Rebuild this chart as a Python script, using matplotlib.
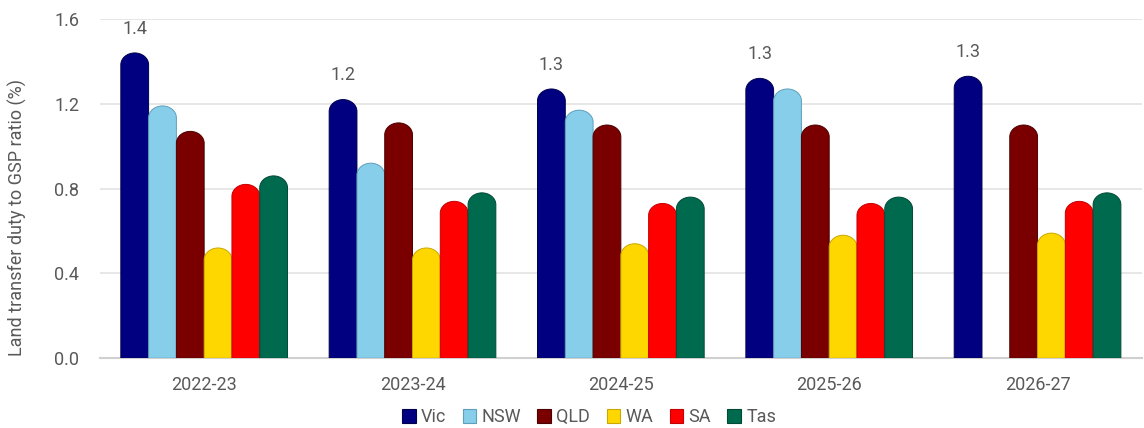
import numpy as np
import matplotlib
matplotlib.use("Agg")
import matplotlib.pyplot as plt
from matplotlib.path import Path
from matplotlib.patches import PathPatch, Patch

plt.rcParams['font.family'] = ['Roboto', 'DejaVu Sans']

years = ["2022-23", "2023-24", "2024-25", "2025-26", "2026-27"]
states = ["Vic", "NSW", "QLD", "WA", "SA", "Tas"]
vic = [1.44, 1.22, 1.27, 1.32, 1.33]
nsw = [1.19, 0.92, 1.17, 1.27, np.nan]
qld = [1.07, 1.11, 1.10, 1.10, 1.10]
wa = [0.52, 0.52, 0.54, 0.58, 0.59]
sa = [0.82, 0.74, 0.73, 0.73, 0.74]
tas = [0.86, 0.78, 0.76, 0.76, 0.78]
series = [vic, nsw, qld, wa, sa, tas]
colors = ["#000080", "#87CEEB", "#7A0000", "#FFD700", "#FF0000", "#006A4E"]
edges = ["#00004d", "#5e9fba", "#4d0000", "#c9a800", "#c40000", "#004a36"]

text_col = "#595959"
fs = 13
fig = plt.figure(figsize=(11.44, 4.28), dpi=100)
ax = fig.add_axes([0.0874, 0.163, 0.9106, 0.7926])

n = len(states)
group_w = 0.8
bw = group_w / n
x = np.arange(len(years))
ax.set_xlim(-0.5, len(years) - 0.5)
ax.set_ylim(0, 1.6)

# data units per pixel, used to keep the rounded caps round on screen
fig_w_px = fig.get_figwidth() * fig.dpi
fig_h_px = fig.get_figheight() * fig.dpi
ax_pos = ax.get_position()
x_per_px = (len(years)) / (ax_pos.width * fig_w_px)
y_per_px = 1.6 / (ax_pos.height * fig_h_px)

for i, (vals, c, ec) in enumerate(zip(series, colors, edges)):
    offs = x - group_w / 2 + bw * (i + 0.5)
    bars = ax.bar(offs, vals, width=bw, color=c, alpha=0)
    for b, v in zip(bars, vals):
        if np.isnan(v):
            continue
        x0 = b.get_x()
        x1 = x0 + b.get_width()
        xc = (x0 + x1) / 2
        rx = (x1 - x0) / 2
        ry = rx / x_per_px * 0.85 * y_per_px
        top = b.get_height()
        k = 0.5523
        verts = [
            (x0, 0), (x0, top - ry),
            (x0, top - ry + k * ry), (xc - k * rx, top), (xc, top),
            (xc + k * rx, top), (x1, top - ry + k * ry), (x1, top - ry),
            (x1, 0), (x0, 0),
        ]
        codes = [Path.MOVETO, Path.LINETO,
                 Path.CURVE4, Path.CURVE4, Path.CURVE4,
                 Path.CURVE4, Path.CURVE4, Path.CURVE4,
                 Path.LINETO, Path.CLOSEPOLY]
        ax.add_patch(PathPatch(Path(verts, codes), facecolor=c,
                               edgecolor=ec, linewidth=0.7, zorder=3))
        if i == 0:
            ax.annotate(f"{v:.1f}", (xc, top), xytext=(0, 11),
                        textcoords="offset points", ha="center",
                        va="bottom", fontsize=fs, color=text_col)

ax.set_yticks([0.0, 0.4, 0.8, 1.2, 1.6])
ax.set_yticklabels([f"{t:.1f}" for t in [0.0, 0.4, 0.8, 1.2, 1.6]])
ax.set_xticks(x)
ax.set_xticklabels(years)
ax.tick_params(axis="both", length=0, labelsize=fs, labelcolor=text_col)
ax.tick_params(axis="x", pad=13)
ax.tick_params(axis="y", pad=15)
ax.yaxis.grid(True, color="#e3e3e3", linewidth=1.2, zorder=0)
ax.set_axisbelow(True)
for s in ["top", "right", "left"]:
    ax.spines[s].set_visible(False)
ax.spines["bottom"].set_color("#d0d0d0")
ax.spines["bottom"].set_linewidth(1.5)

ax.set_ylabel("Land transfer duty to GSP ratio (%)", fontsize=fs,
              color=text_col)
ax.yaxis.set_label_coords(-0.070, 0.416)

handles = [Patch(facecolor=c, edgecolor=ec, linewidth=0.8, label=s)
           for s, c, ec in zip(states, colors, edges)]
fig.legend(handles=handles, loc="center", bbox_to_anchor=(0.515, 0.025),
           ncol=6, frameon=False, fontsize=fs, handlelength=0.75,
           handleheight=0.75, handletextpad=0.3, columnspacing=0.9,
           labelcolor=text_col)

fig.savefig("out.png", dpi=100, facecolor="white")
